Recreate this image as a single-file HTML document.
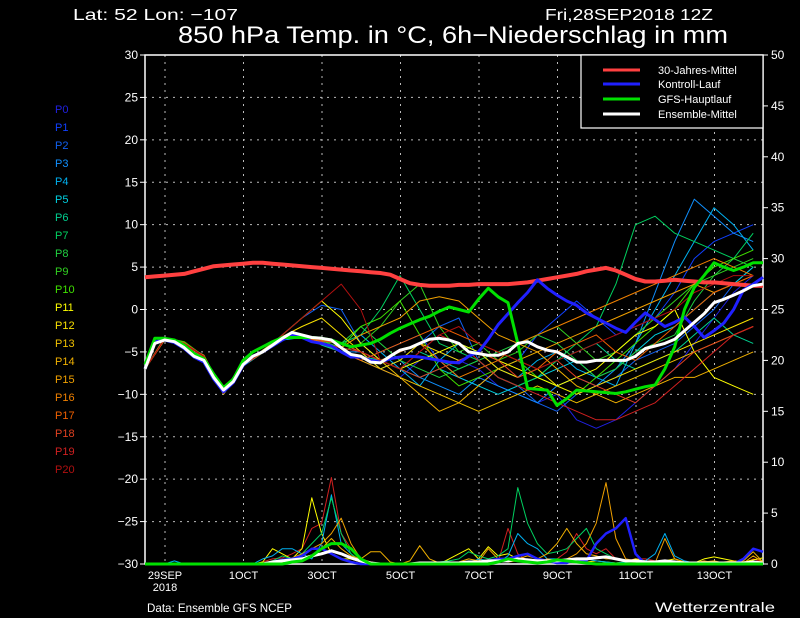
<!DOCTYPE html>
<html><head><meta charset="utf-8"><style>
html,body{margin:0;padding:0;background:#000;}
svg{display:block;font-family:"Liberation Sans",sans-serif;}
</style></head><body>
<svg id="c" width="800" height="618" viewBox="0 0 800 618"></svg>
<script>
// ---- data ----
const tempTicks=[30,25,20,15,10,5,0,-5,-10,-15,-20,-25,-30];
const precipTicks=[0,5,10,15,20,25,30,35,40,45,50];
const dateLabels=["29SEP","1OCT","3OCT","5OCT","7OCT","9OCT","11OCT","13OCT"];
const memberNames=["P0","P1","P2","P3","P4","P5","P6","P7","P8","P9","P10","P11","P12","P13","P14","P15","P16","P17","P18","P19","P20"];
const memberColors=["#2020e0","#1040ff","#1060f0","#1090ff","#00b0f0","#00d0e0","#00d090","#00d060","#20d040","#30d020","#40e000","#ffff00","#f8e000","#f0c000","#f0b000","#f0a000","#f08000","#f06000","#e04020","#d02020","#b01010"];
// members: 12-hourly temperatures (32 values)
const members=[
[-7,-3.5,-4,-5.6,-9.8,-6.4,-5,-3.5,-3.2,-4,-5,-6,-7,-8,-6,-5,-6,-7,-9,-10,-11,-10,-13,-14,-13,-11,-9,-7,-4,-1,2,4],
[-7,-3.4,-4.2,-5.5,-9.6,-6.5,-4.8,-3.2,-3,-3.8,-5,-6,-5,-4,-3,-6,-8,-9,-7,-6,-3,-1,1,-1,-3,-2,-1,2,6,8,9,10],
[-7,-3.6,-4,-5.4,-9.9,-6.6,-5,-3,-1,0.5,0,-4,-6,-5,-4,-2,-1,-6,-8,-9,-11,-12,-10,-9,-8,-6,-5,-4,-2,0,3,5],
[-7,-3.5,-4.1,-5.6,-9.7,-6.4,-4.9,-3.3,-3.1,-4,-5,-5,-7,-6,-8,-9,-10,-8,-9,-10,-11,-9,-8,-9,-7,-4,2,8,13,11,9,8],
[-7,-3.3,-3.9,-5.5,-10,-6.7,-5.1,-3.4,-3,-3.6,-4,-3,-5,-7,-9,-6,-4,-5,-7,-8,-6,-5,-7,-8,-9,-4,0,4,8,12,10,7],
[-7,-3.5,-4,-5.7,-9.8,-6.5,-5,-3.6,-3.3,-4,-4.5,-5,-6,-7,-8,-7,-8,-9,-10,-9,-8,-7,-6,-8,-7,-5,-3,-2,0,2,3,5],
[-7,-3.6,-4.2,-5.5,-9.6,-6.3,-4.8,-3.2,-3.1,-4.2,-5,-5.5,-6,-7,-5,-6,-7,-6,-8,-9,-8,-6,-5,-4,-6,-7,-6,-5,-3,-1,-3,-4],
[-7,-3.4,-4,-5.6,-9.9,-6.6,-5.1,-3.4,-3,-3.5,-4,-3,0,4,0,-4,-5,-6,-8,-9,-8,-6,-4,-2,3,10,11,9,8,7,6,9],
[-7,-3.5,-4.1,-5.4,-9.7,-6.4,-5,-3.3,-3.2,-3.8,-4,-2,-4,-6,-7,-8,-7,-6,-5,-4,-3,-4,-6,-8,-7,-5,-4,-3,1,4,6,5],
[-7,-3.5,-4,-5.6,-9.8,-6.5,-4.9,-3.5,-3,-4,-5,-4,-2,1,3,-2,-5,-4,-6,-5,-3,-2,-4,-6,-5,-3,-1,1,3,4,5,6],
[-7,-3.3,-3.8,-5.5,-9.9,-6.6,-5,-3.4,-3.3,-3.7,-4.5,-2,-1,1,-3,-7,-9,-8,-7,-6,-8,-9,-10,-8,-6,-4,-2,0,3,5,6,7],
[-7,-3.6,-4,-5.6,-9.6,-6.4,-5.1,-3,-1,1,-1,-4,-6,-7,-6,-5,-4,-5,-6,-7,-8,-9,-8,-7,-5,-3,-2,0,-5,-8,-9,-10],
[-7,-3.4,-4.2,-5.4,-9.8,-6.5,-4.8,-3.2,-2,-1,-3,-5,-7,-6,-4,-5,-6,-5,-7,-8,-7,-9,-10,-9,-8,-7,-6,-5,-4,-3,-2,-1],
[-7,-3.5,-4,-5.5,-10,-6.6,-5,-3.5,-3,-3.6,-4,-5,-6,-8,-9,-10,-11,-12,-11,-10,-9,-10,-11,-10,-9,-8,-7,-6,-5,-4,-3,-2],
[-7,-3.4,-4.1,-5.6,-9.7,-6.3,-4.9,-3.3,-3.1,-3.9,-5,-6,-7,-8,-10,-12,-11,-9,-7,-6,-5,-7,-9,-10,-11,-10,-9,-8,-8,-7,-6,-5],
[-7,-3.5,-4,-5.5,-9.8,-6.5,-5,-3.4,-3.2,-4,-4.5,-3,-2,-1,1,1.5,1,-1,-3,-4,-5,-4,-3,-2,-1,0,1,2,3,2,3,4],
[-7,-3.6,-4.2,-5.4,-9.9,-6.6,-5.1,-3.3,-3,-3.5,-4,-5,-6,-5,-4,-6,-8,-7,-6,-4,-3,-2,-1,0,1,2,3,4,5,6,5,4],
[-7,-3.5,-4,-5.6,-9.8,-6.4,-5,-3.5,-3.1,-3.8,-5,-6,-5,-4,-3,-2,-3,-4,-5,-6,-7,-5,-4,-3,-5,-6,-4,-2,0,2,3,4],
[-7,-3.4,-3.9,-5.5,-9.7,-6.5,-4.9,-3.2,-3,-3.7,-4,-5,-6,-7,-8,-7,-6,-5,-6,-8,-7,-6,-8,-9,-10,-11,-9,-7,-5,-4,-3,-2],
[-7,-3.5,-4.1,-5.6,-9.9,-6.6,-5,-3.4,-3.2,-4,-4.5,-5,-6,-7,-5,-3,-4,-6,-8,-9,-10,-11,-12,-13,-13,-12,-11,-9,-7,-5,-3,-2],
[-7,-3.5,-4,-5.5,-9.8,-6.5,-5,-3,-1,1,3,0,-6,-7,-5,-3,-2,-4,-5,-6,-7,-6,-5,-4,-3,-2,-1,0,2,3,4,4]
];
// 6-hourly series (64 values)
const ensMean=[-7,-4,-3.6,-3.8,-4.5,-5.5,-6,-8,-9.5,-8.5,-6.5,-5.5,-5,-4.2,-3.4,-2.7,-3,-3.3,-3.4,-3.6,-4.5,-5.3,-5.5,-6.2,-6.3,-5.5,-4.8,-4.5,-4,-3.5,-3.4,-3.6,-4,-5,-5.2,-5.4,-5.4,-5,-4,-3.8,-4.4,-4.8,-5,-5.6,-6.2,-6.2,-6,-6,-6,-6,-5.5,-4.6,-4.3,-4,-3.5,-2.5,-1.5,-0.5,0.8,1.2,1.7,2.2,2.8,3];
const control=[-7,-3.8,-3.6,-3.9,-4.6,-5.6,-6.2,-8.2,-9.7,-8.6,-6.6,-5.5,-5,-4.3,-3.6,-3,-3.3,-3.8,-4,-4.3,-5,-5.6,-5.6,-6,-6.2,-5.8,-5.6,-5.5,-5.6,-5.8,-6,-6.2,-6.3,-5.5,-5,-3.5,-1.8,-0.5,0.8,2,3.5,2.5,1.7,1,0.5,-0.4,-1,-1.6,-2.2,-2.7,-1.5,-0.4,-1.2,-2,-1.5,-0.9,-2,-3.3,-2.5,-1.6,0,2.3,3,3.8];
const gfs=[-6.5,-3.4,-3.4,-3.6,-4.2,-5.2,-5.8,-7.6,-9.2,-8.2,-6,-5,-4.4,-3.8,-3.3,-3.3,-3.3,-3.3,-3.4,-3.6,-4,-4.4,-4.2,-4,-3.5,-2.8,-2.2,-1.7,-1.2,-0.8,-0.2,0.3,0,-0.3,1.2,2.5,1.5,0.8,-4,-9.3,-9.4,-9.5,-11.3,-10.5,-9.5,-9.6,-9.7,-9.8,-9.9,-9.7,-9.4,-9.1,-8.9,-7,-4.4,0,2.6,4,5.5,5,4.6,5,5.5,5.5];
const climate=[3.8,3.9,4,4.1,4.2,4.5,4.8,5.1,5.2,5.3,5.4,5.5,5.5,5.4,5.3,5.2,5.1,5,4.9,4.8,4.7,4.6,4.5,4.4,4.3,4.1,3.6,3.1,2.9,2.8,2.8,2.8,2.9,2.9,3,3,3,3,3.1,3.2,3.4,3.6,3.8,4,4.2,4.5,4.7,4.9,4.6,4.1,3.6,3.3,3.3,3.4,3.5,3.4,3.3,3.2,3.2,3.1,3,2.9,2.8,2.8];
// precipitation 6h (64 values), selected members
const precipNames=["P19","P11","P4","P7","P15","P14"];
const precipSeries=[
[0,0,0,0,0,0,0,0,0,0,0,0,0.2,0.5,0.6,1,1.5,3.5,4,8.5,3,1.5,0.5,0.2,0,0,0,0,0,0,0,0,0,0,0,0,0.2,3.5,1,0.3,0.2,0.1,0.5,1.2,3,1.5,1,1.5,0.5,0.3,0.5,0.5,0.3,0,0,0,0.2,0,0,0,0,0,0.5,0.2],
[0,0,0,0,0,0,0,0,0,0,0,0,0.2,1.5,1,0.5,1.5,6.5,3,1,0.5,0.5,0.2,0,0,0,0,0,0,0,0,0.5,1,1.5,0.5,1.7,0.8,1,0.5,0.2,0.1,0.5,0.3,0.2,0.5,0.2,0.3,0.2,0.1,0.2,0.5,0.3,0.1,0.3,0.5,0.2,0.1,0.5,0.7,0.5,0.3,0.2,0.4,0.6],
[0,0,0,0.3,0,0,0,0,0,0,0,0,0.5,0.8,1.5,1.5,1,0.5,2,6.8,2,1,0.2,0,0,0,0,0,0,0,0,0,0,0,0.5,0.3,0.2,0.8,3,2,1.5,0.5,0.5,0.3,0.2,0.5,0.3,0.2,0.1,0.2,0.3,0.3,1,3,0.8,0.3,0.1,0,0.1,0.2,0.1,0.2,0.1,0],
[0,0,0,0,0,0,0,0,0,0,0,0,0,0.3,0.8,0.5,1,2,3,6.5,3,1,0.3,0,0,0,0,0,0,0,0.2,0.3,0.5,1.2,0.8,0.5,0.8,1.5,7.5,4,2,1,1.2,1.5,2.5,3.5,1.5,1,0.5,0.3,0.3,0.1,0.1,0.2,0.1,0,0,0,0,0.1,0.1,0,0,0],
[0,0,0,0,0,0,0,0,0,0,0,0,0,0.2,0.3,0.6,1,1.5,2,3,4.5,2,0.5,0.2,0,0,0,0,0,0,0,0,0,0,0.2,1.5,0.5,0.2,0.3,0.5,0.2,0.5,0.3,0.5,1,2,4,8,2.5,0.5,0.3,0.2,0.1,2.5,0.5,0.2,0.1,0.3,0.1,0.2,0.3,0.1,0.8,0.2],
[0,0,0,0,0,0,0,0,0,0,0,0,0,0.3,0.2,0.5,0.3,0.8,1.5,2.5,1.5,0.8,0.5,1.2,1.2,0.2,0,0.3,1.8,0.5,0.1,0,0.2,0.5,0.3,0.3,0.5,0.3,0.5,0.8,0.5,1,2,3.5,2,1,0.8,0.5,0.5,0.3,0.2,0.1,0.1,0.2,0.3,0.1,0,0.2,0.3,0.1,0.2,0.3,1.2,0.2]
];
const precipMean=[0,0,0,0,0,0,0,0,0,0,0,0,0,0.2,0.3,0.4,0.5,0.8,1,1.3,1,0.6,0.3,0.1,0,0,0,0,0.1,0.1,0.1,0.1,0.1,0.2,0.2,0.3,0.3,0.3,0.5,0.4,0.3,0.3,0.3,0.4,0.5,0.5,0.6,0.7,0.5,0.3,0.3,0.2,0.2,0.3,0.2,0.1,0.1,0.1,0.1,0.1,0.1,0.1,0.2,0.1];
const precipControl=[0,0,0,0,0,0,0,0,0,0,0,0,0,0.2,0.4,0.5,0.8,1.5,1.5,1,0.5,0.2,0,0,0,0,0,0,0,0,0,0,0.1,0.2,0.2,0.3,0.5,0.5,0.8,1,0.5,0.3,0.1,0.1,0.5,0.3,2,3,3.5,4.5,1,0,0,0,0,0,0,0,0,0,0,0.5,1.5,1.2];
const precipGfs=[0,0,0,0,0,0,0,0,0,0,0,0,0,0,0,0.2,0.3,0.8,1.5,2,2,1.5,0.5,0,0,0,0,0,0,0,0,0,0,0,0,0,0.2,0.5,0.3,0.2,0.1,0.2,0.4,0.3,0.2,0.1,0,0,0,0,0,0,0,0,0,0,0,0,0,0,0,0,0,0];

// ---- scales ----
const L=145,R=763,T=55,B=564;
const xIdx6=i=>L+i*(R-L)/63;
const xIdx12=i=>L+i*2*(R-L)/63;
const yT=v=>T+(30-v)*(B-T)/60;
const yP=v=>B-v*(B-T)/50;
const dayX=d=>165+d*39.25;

const svg=document.getElementById('c');
const NS='http://www.w3.org/2000/svg';
function mk(tag,attrs,parent){const e=document.createElementNS(NS,tag);for(const k in attrs)e.setAttribute(k,attrs[k]);(parent||svg).appendChild(e);return e;}
function txt(s,attrs,parent){const e=mk('text',attrs,parent);e.textContent=s;return e;}

// grid
const grid=mk('g',{});


tempTicks.forEach(v=>{if(v===30||v===-30)return;mk('line',{x1:L,x2:R,y1:yT(v),y2:yT(v),stroke:'#bbb','stroke-width':1,'stroke-dasharray':'2,5'},grid);});
for(let d=0;d<=14;d+=2){mk('line',{x1:dayX(d),x2:dayX(d),y1:T,y2:B,stroke:'#bbb','stroke-width':1,'stroke-dasharray':'2,5'},grid);}

// axes frame
const frame=mk('rect',{x:L,y:T,width:R-L,height:B-T,fill:'none',stroke:'#fff','stroke-width':1.5});



// left ticks
const ly=mk('g',{fill:'#fff','font-size':12,'text-anchor':'end'});


tempTicks.forEach(v=>{mk('line',{x1:L-5,x2:L,y1:yT(v),y2:yT(v),stroke:'#fff'},ly);txt(String(v).replace('-','\u2212'),{x:L-7,y:yT(v)+4},ly);});
// right ticks
const ry=mk('g',{fill:'#fff','font-size':12,'text-anchor':'start'});


precipTicks.forEach(v=>{mk('line',{x1:R,x2:R+5,y1:yP(v),y2:yP(v),stroke:'#fff'},ry);txt(String(v),{x:R+8,y:yP(v)+4},ry);});
// x labels
const xa=mk('g',{fill:'#fff','font-size':11,'text-anchor':'middle'});


dateLabels.forEach((s,k)=>{txt(s,{x:dayX(k*2),y:579},xa);});
txt('2018',{x:dayX(0),y:591},xa);

// precipitation lines
const pg=mk('g',{fill:'none'});


function poly(arr,xf,yf,color,w,parent){return mk('polyline',{points:arr.map((v,i)=>xf(i).toFixed(1)+','+yf(v).toFixed(1)).join(' '),stroke:color,'stroke-width':w,fill:'none','stroke-linejoin':'round'},parent);}
precipSeries.forEach((arr,k)=>{const c=memberColors[memberNames.indexOf(precipNames[k])];const p=poly(arr,xIdx6,yP,c,1,pg);

});
let p1=poly(precipControl,xIdx6,yP,'#2020ff',2.5,pg);


let p2=poly(precipMean,xIdx6,yP,'#fff',3,pg);


let p3=poly(precipGfs,xIdx6,yP,'#00e000',3,pg);



// temperature members
const tg=mk('g',{});


members.forEach((arr,k)=>{const p=poly(arr,xIdx12,yT,memberColors[k],1,tg);

});
let c1=poly(climate,xIdx6,yT,'#ff4040',4,svg);


let c2=poly(control,xIdx6,yT,'#2020ff',3,svg);


let c3=poly(gfs,xIdx6,yT,'#00e000',3,svg);


let c4=poly(ensMean,xIdx6,yT,'#ffffff',3,svg);



// member labels on left
const ml=mk('g',{'font-size':11});


memberNames.forEach((n,k)=>{const t=txt(n,{x:55,y:113+k*18,fill:memberColors[k]},ml);

});
</script>
<!-- legend box -->
<g></g>
<script>
(function(){
const svg=document.getElementById('c');const NS='http://www.w3.org/2000/svg';
const g=document.createElementNS(NS,'g');svg.appendChild(g);


const r=document.createElementNS(NS,'rect');
[['x',581],['y',55],['width',182],['height',73],['fill','#000'],['stroke','#fff'],['stroke-width',1.2]].forEach(a=>r.setAttribute(a[0],a[1]));g.appendChild(r);
const items=[['30-Jahres-Mittel','#ff4040',70],['Kontroll-Lauf','#2020ff',84],['GFS-Hauptlauf','#00e000',99],['Ensemble-Mittel','#ffffff',114]];
items.forEach(it=>{const l=document.createElementNS(NS,'line');
[['x1',603],['x2',640],['y1',it[2]],['y2',it[2]],['stroke',it[1]],['stroke-width',3]].forEach(a=>l.setAttribute(a[0],a[1]));g.appendChild(l);
const t=document.createElementNS(NS,'text');t.setAttribute('x',658);t.setAttribute('y',it[2]+4);t.setAttribute('fill','#fff');t.setAttribute('font-size',11);t.textContent=it[0];


g.appendChild(t);});
})();
</script>
<script>
(function(){
const svg=document.getElementById('c');const NS='http://www.w3.org/2000/svg';
function t(s,x,y,size,anchor,len,name){const e=document.createElementNS(NS,'text');e.setAttribute('x',x);e.setAttribute('y',y);e.setAttribute('fill','#fff');e.setAttribute('font-size',size);e.setAttribute('text-anchor',anchor);if(len){e.setAttribute('textLength',len);e.setAttribute('lengthAdjust','spacingAndGlyphs');}e.textContent=s;


svg.appendChild(e);}
t('Lat: 52 Lon: \u2212107',73,20,16,'start',165,'location-label');
t('Fri,28SEP2018 12Z',545,20,16,'start',168,'run-date-label');
t('850 hPa Temp. in \u00b0C, 6h\u2212Niederschlag in mm',178,43,24,'start',550,'chart-title');
t('Data: Ensemble GFS NCEP',147,612,12,'start',145,'data-source-label');
t('Wetterzentrale',775,612,14,'end',120,'brand-label');
})();
</script>
</body></html>
